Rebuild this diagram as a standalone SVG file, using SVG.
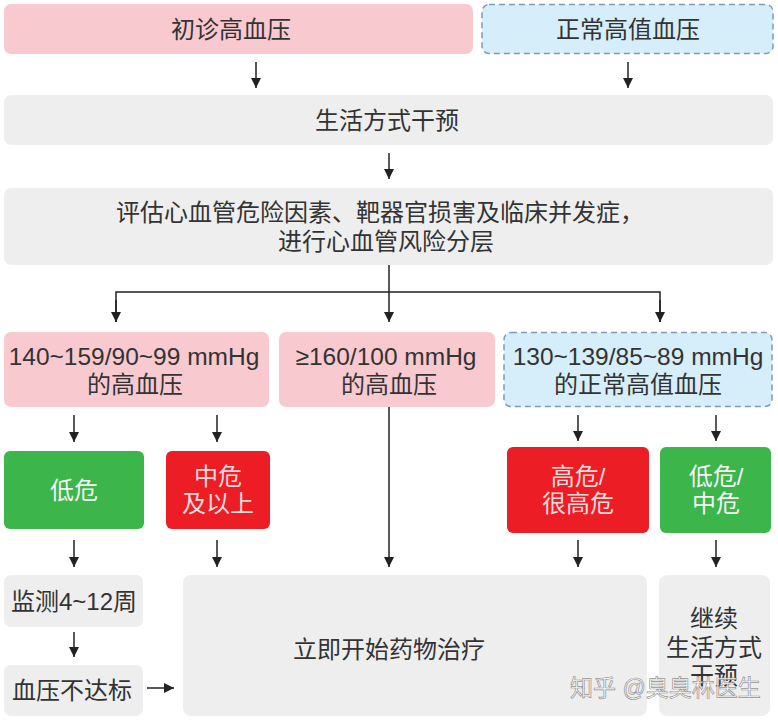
<svg xmlns="http://www.w3.org/2000/svg" width="778" height="720" viewBox="0 0 778 720">
<defs>
<marker id="ah" viewBox="0 0 10 10" refX="10" refY="5" markerWidth="10" markerHeight="10" markerUnits="userSpaceOnUse" orient="auto">
<path d="M0,0 L10,5 L0,10 Z" fill="#222"/>
</marker>
<style>
text{font-family:"Liberation Sans","Noto Sans CJK SC",sans-serif;font-size:24px;fill:#333;text-anchor:middle;dominant-baseline:central}
.num{font-size:24.5px}
.pink{fill:#f9c9d0}
.blue{fill:#d5eef9;stroke:#7c9cba;stroke-width:1.5;stroke-dasharray:6 4}
.gray{fill:#eeeeee}
.green{fill:#3cb54a}
.red{fill:#ec1d25}
.lt{fill:#f4f4f4}
.rt{fill:#fbdcdc}
.conn line,.conn path{stroke:#222;stroke-width:1.5;fill:none}
.wm{font-size:23px;fill:#ffffff;stroke:#8a8a8a;stroke-width:0.7;text-anchor:start;opacity:0.9}
</style>
</defs>
<rect width="778" height="720" fill="#ffffff"/>

<g id="n1"><rect class="pink" x="4" y="4" width="469" height="50" rx="7"/><text x="231" y="29">初诊高血压</text></g>
<g id="n2"><rect class="blue" x="482" y="4.5" width="291" height="49" rx="7"/><text x="628" y="29">正常高值血压</text></g>
<g id="n3"><rect class="gray" x="4" y="95" width="769" height="50" rx="7"/><text x="387" y="120">生活方式干预</text></g>
<g id="n4"><rect class="gray" x="4" y="188" width="769" height="77" rx="7"/><text x="380" y="212">评估心血管危险因素、靶器官损害及临床并发症，</text><text x="386" y="241">进行心血管风险分层</text></g>
<g id="n5"><rect class="pink" x="4" y="332" width="265" height="75" rx="7"/><text class="num" x="134" y="356">140~159/90~99 mmHg</text><text x="135" y="384">的高血压</text></g>
<g id="n6"><rect class="pink" x="279" y="332" width="216" height="75" rx="7"/><text class="num" x="386" y="356">≥160/100 mmHg</text><text x="389" y="384">的高血压</text></g>
<g id="n7"><rect class="blue" x="504" y="332.5" width="268" height="74" rx="7"/><text class="num" x="638" y="356">130~139/85~89 mmHg</text><text x="638" y="384">的正常高值血压</text></g>
<g id="n8"><rect class="green" x="4" y="451" width="140" height="78" rx="6"/><text class="lt" x="74" y="490">低危</text></g>
<g id="n9"><rect class="red" x="166" y="451" width="104" height="78" rx="6"/><text class="rt" x="218" y="476">中危</text><text class="rt" x="218" y="503">及以上</text></g>
<g id="n10"><rect class="red" x="507" y="447" width="142" height="86" rx="6"/><text class="rt" x="578" y="476">高危/</text><text class="rt" x="578" y="503">很高危</text></g>
<g id="n11"><rect class="green" x="660" y="447" width="111" height="86" rx="6"/><text class="lt" x="716" y="476">低危/</text><text class="lt" x="716" y="503">中危</text></g>
<g id="n12"><rect class="gray" x="4" y="575" width="139" height="52" rx="7"/><text x="74" y="601">监测4~12周</text></g>
<g id="n13"><rect class="gray" x="4" y="665" width="139" height="51" rx="7"/><text x="72" y="690">血压不达标</text></g>
<g id="n14"><rect class="gray" x="183" y="575" width="464" height="141" rx="8"/><text x="389" y="649">立即开始药物治疗</text></g>
<g id="n15"><rect class="gray" x="659" y="575" width="111" height="141" rx="8"/><text x="714" y="618">继续</text><text x="714" y="647">生活方式</text><text x="714" y="675">干预</text></g>

<g id="connectors" class="conn">
<line x1="256" y1="62" x2="256" y2="88" marker-end="url(#ah)"/>
<line x1="628" y1="62" x2="628" y2="88" marker-end="url(#ah)"/>
<line x1="389" y1="153" x2="389" y2="179" marker-end="url(#ah)"/>
<line x1="389" y1="265" x2="389" y2="322" marker-end="url(#ah)"/>
<path d="M116,322 L116,292 L660,292 L660,322" />
<line x1="116" y1="300" x2="116" y2="322" marker-end="url(#ah)"/>
<line x1="660" y1="300" x2="660" y2="322" marker-end="url(#ah)"/>
<line x1="74" y1="415" x2="74" y2="442" marker-end="url(#ah)"/>
<line x1="217" y1="415" x2="217" y2="442" marker-end="url(#ah)"/>
<line x1="578" y1="415" x2="578" y2="441" marker-end="url(#ah)"/>
<line x1="716" y1="415" x2="716" y2="441" marker-end="url(#ah)"/>
<line x1="74" y1="540" x2="74" y2="567" marker-end="url(#ah)"/>
<line x1="217" y1="540" x2="217" y2="567" marker-end="url(#ah)"/>
<line x1="389" y1="407" x2="389" y2="567" marker-end="url(#ah)"/>
<line x1="578" y1="540" x2="578" y2="567" marker-end="url(#ah)"/>
<line x1="716" y1="540" x2="716" y2="567" marker-end="url(#ah)"/>
<line x1="74" y1="632" x2="74" y2="657" marker-end="url(#ah)"/>
<line x1="147" y1="688" x2="174" y2="688" marker-end="url(#ah)"/>
</g>

<text class="wm" x="570" y="688">知乎 @臭臭林医生</text>
</svg>
